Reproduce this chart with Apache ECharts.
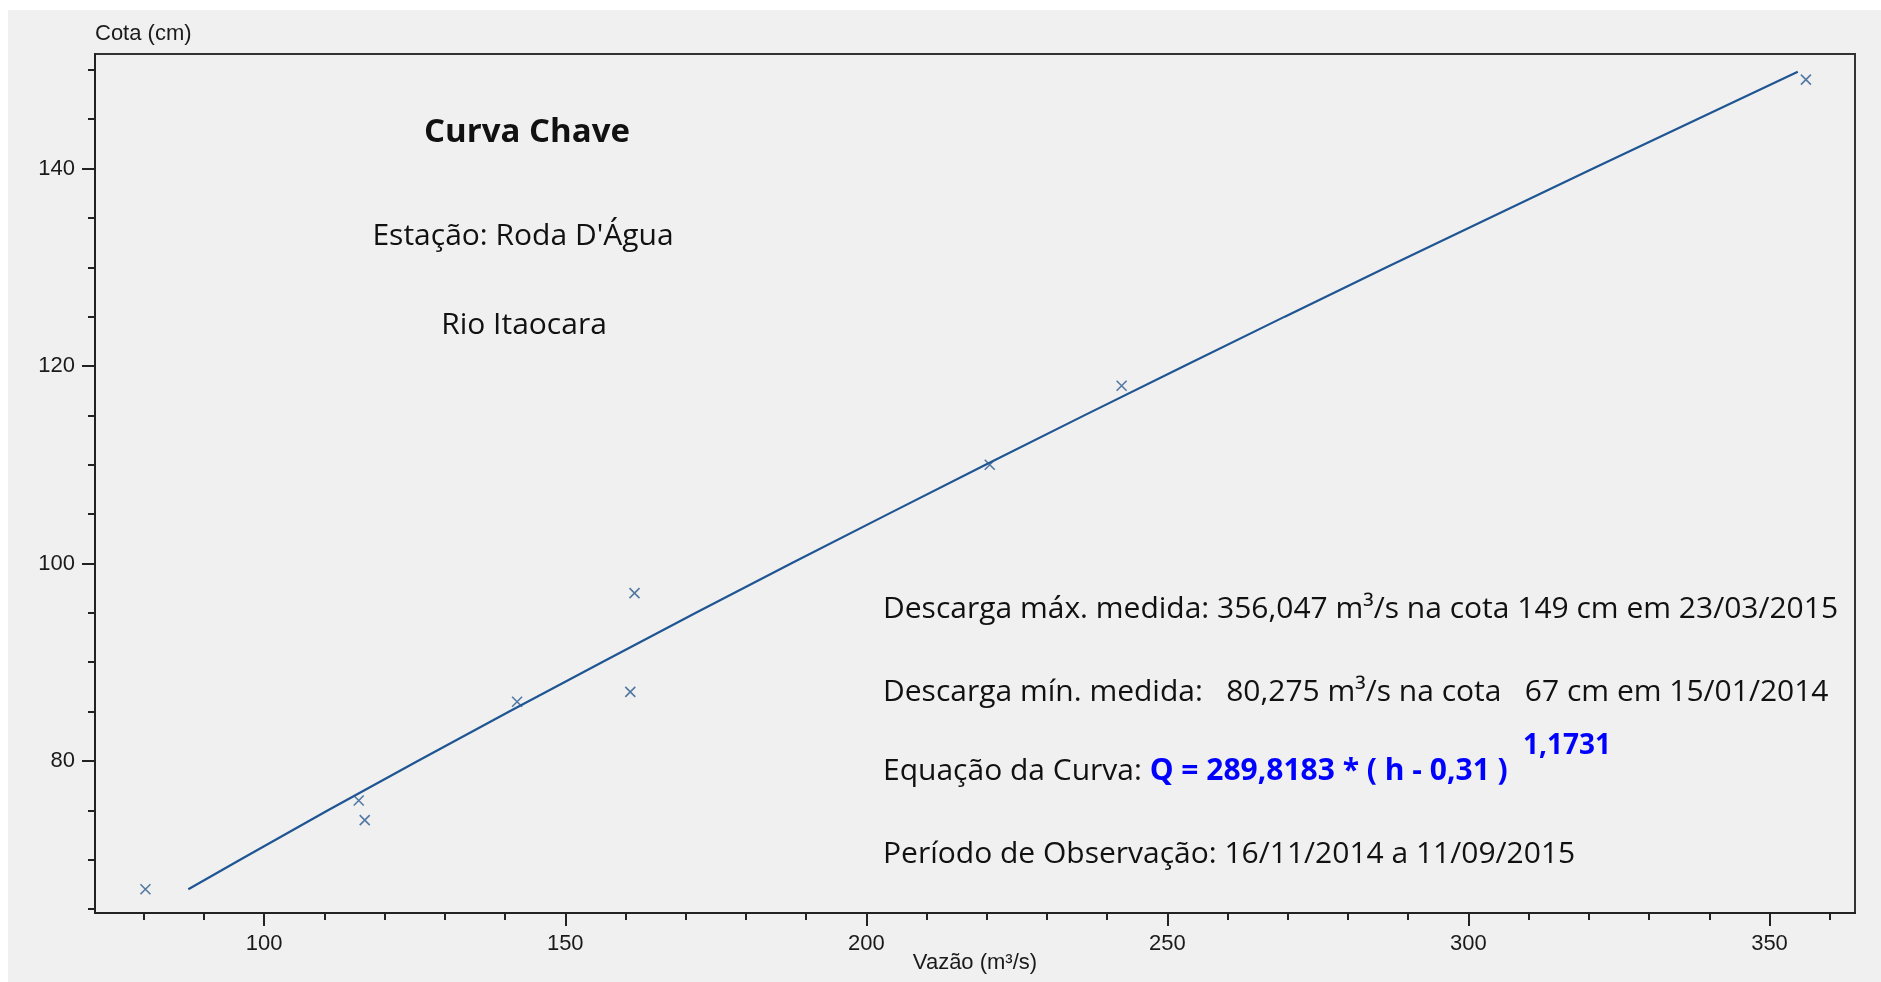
<!DOCTYPE html>
<html>
<head>
<meta charset="utf-8">
<script src="https://cdn.jsdelivr.net/npm/echarts@6/dist/echarts.min.js"></script>
<style>
html,body{margin:0;padding:0;background:#ffffff;}
#chart{width:1881px;height:982px;}
</style>
</head>
<body>
<div id="chart"></div>
<script>
// Measured discharges (m³/s) and stages (cm)
const measuredQ = [80.275, 115.7, 116.7, 142.0, 160.8, 161.5, 220.5, 242.4, 356.047];
const measuredH = [67, 76, 74, 86, 87, 97, 110, 118, 149];

// Rating curve: stage (cm) and discharge (m³/s)
const curveH = [67, 70, 75, 80, 85, 90, 95, 100, 105, 110, 115, 120, 125, 130, 135, 140, 145, 149.8];
const curveQ = [87.4, 96.0, 110.6, 125.5, 140.7, 156.1, 171.7, 187.5, 203.6, 219.8, 236.2, 252.8, 269.5, 286.4, 303.5, 320.7, 338.0, 354.7];

// Ticks and labels
const xMajorTicks = [100, 150, 200, 250, 300, 350];
const xMinorTicks = [80, 90, 100, 110, 120, 130, 140, 150, 160, 170, 180, 190, 200, 210, 220, 230, 240, 250, 260, 270, 280, 290, 300, 310, 320, 330, 340, 350, 360];
const yMajorTicks = [80, 100, 120, 140];
const yMinorTicks = [65, 70, 75, 80, 85, 90, 95, 100, 105, 110, 115, 120, 125, 130, 135, 140, 145, 150];

// Texts
const titleText = 'Curva Chave';
const stationText = "Estação: Roda D'Água";
const riverText = 'Rio Itaocara';
const infoMax = 'Descarga máx. medida: 356,047 m³/s na cota 149 cm em 23/03/2015';
const infoMin = 'Descarga mín. medida:   80,275 m³/s na cota   67 cm em 15/01/2014';
const eqLabel = 'Equação da Curva: ';
const eqFormula = 'Q = 289,8183 * ( h - 0,31 )';
const eqExponent = '1,1731';
const periodText = 'Período de Observação: 16/11/2014 a 11/09/2015';

const X_MIN = 71.9, X_MAX = 364.2, Y_MIN = 64.6, Y_MAX = 151.6;
const axisFont = '"Liberation Sans", Arial, sans-serif';
const textFont = '"Open Sans", "Noto Sans", sans-serif';
const axisColor = '#222';
const labelColor = '#1a1a1a';
const blue = '#2a5b8f';

const curveData = curveH.map((h, i) => [curveQ[i], h]);
const measData = measuredH.map((h, i) => [measuredQ[i], h]);

const chart = echarts.init(document.getElementById('chart'), null, {renderer: 'canvas'});

function txt(x, y, text, font, fill, align) {
  return {
    type: 'text', x: x, y: y, z: 10,
    style: {
      text: text, font: font, fill: fill,
      align: align, textAlign: align,
      verticalAlign: 'middle', textVerticalAlign: 'middle'
    }
  };
}

const option = {
  backgroundColor: 'transparent',
  animation: false,
  grid: {
    left: 95, top: 54, right: 26, bottom: 69,
    containLabel: false, outerBoundsMode: 'none',
    show: true, borderColor: '#333', borderWidth: 2, backgroundColor: 'transparent'
  },
  xAxis: [
    {
      type: 'value', min: X_MIN, max: X_MAX, position: 'bottom',
      axisLine: {show: true, onZero: false, lineStyle: {color: axisColor, width: 2}},
      axisTick: {show: true, customValues: xMajorTicks, length: 13, inside: false, lineStyle: {color: axisColor, width: 2}},
      axisLabel: {show: true, customValues: xMajorTicks, margin: 20, fontSize: 22, fontFamily: axisFont, color: labelColor},
      splitLine: {show: false},
      name: 'Vazão (m³/s)', nameLocation: 'middle', nameGap: 50, nameMoveOverlap: false,
      nameTextStyle: {fontSize: 22, fontFamily: axisFont, color: labelColor, verticalAlign: 'middle'}
    },
    {
      type: 'value', min: X_MIN, max: X_MAX, position: 'bottom',
      axisLine: {show: false, onZero: false},
      axisTick: {show: true, customValues: xMinorTicks, length: 7, inside: false, lineStyle: {color: axisColor, width: 2}},
      axisLabel: {show: false},
      splitLine: {show: false}
    }
  ],
  yAxis: [
    {
      type: 'value', min: Y_MIN, max: Y_MAX, position: 'left',
      axisLine: {show: true, onZero: false, lineStyle: {color: axisColor, width: 2}},
      axisTick: {show: true, customValues: yMajorTicks, length: 13, inside: false, lineStyle: {color: axisColor, width: 2}},
      axisLabel: {show: true, customValues: yMajorTicks, margin: 20, fontSize: 22, fontFamily: axisFont, color: labelColor},
      splitLine: {show: false},
      name: 'Cota (cm)', nameLocation: 'end', nameGap: 20, nameMoveOverlap: false,
      nameTextStyle: {fontSize: 22, fontFamily: axisFont, color: labelColor, align: 'left', verticalAlign: 'middle'}
    },
    {
      type: 'value', min: Y_MIN, max: Y_MAX, position: 'left',
      axisLine: {show: false, onZero: false},
      axisTick: {show: true, customValues: yMinorTicks, length: 7, inside: false, lineStyle: {color: axisColor, width: 2}},
      axisLabel: {show: false},
      splitLine: {show: false}
    }
  ],
  series: [
    {
      name: 'Curva', type: 'line', xAxisIndex: 0, yAxisIndex: 0,
      data: curveData, showSymbol: false, smooth: false,
      lineStyle: {color: '#1f5593', width: 2.2}, z: 3
    },
    {
      name: 'Medições', type: 'scatter', xAxisIndex: 0, yAxisIndex: 0,
      data: measData,
      symbol: 'path://M0,0L10,10M10,0L0,10', symbolSize: 10,
      itemStyle: {color: 'rgba(0,0,0,0)', borderColor: blue, borderWidth: 1.6},
      z: 4
    }
  ],
  graphic: {
    elements: [
      {type: 'rect', z: -10, silent: true, shape: {x: 8, y: 10, width: 1873, height: 972}, style: {fill: '#f0f0f0'}},
      txt(527, 133, titleText, 'bold 33px ' + textFont, '#111', 'center'),
      txt(523, 236.5, stationText, '30px ' + textFont, '#111', 'center'),
      txt(524, 325.5, riverText, '30px ' + textFont, '#111', 'center'),
      txt(883, 609.5, infoMax, '30px ' + textFont, '#111', 'left'),
      txt(883, 692.5, infoMin, '30px ' + textFont, '#111', 'left'),
      {
        type: 'text', x: 883, y: 771.5, z: 10,
        style: {
          text: '{a|' + eqLabel + '}{b|' + eqFormula + '}',
          rich: {
            a: {font: '30px ' + textFont, fill: '#111', color: '#111'},
            b: {font: 'bold 30px ' + textFont, fill: '#0000ff', color: '#0000ff'}
          },
          align: 'left', textAlign: 'left', verticalAlign: 'middle', textVerticalAlign: 'middle'
        }
      },
      txt(1523, 746, eqExponent, 'bold 28px ' + textFont, '#0000ff', 'left'),
      txt(883, 854.5, periodText, '30px ' + textFont, '#111', 'left')
    ]
  }
};

chart.setOption(option);
</script>
</body>
</html>
